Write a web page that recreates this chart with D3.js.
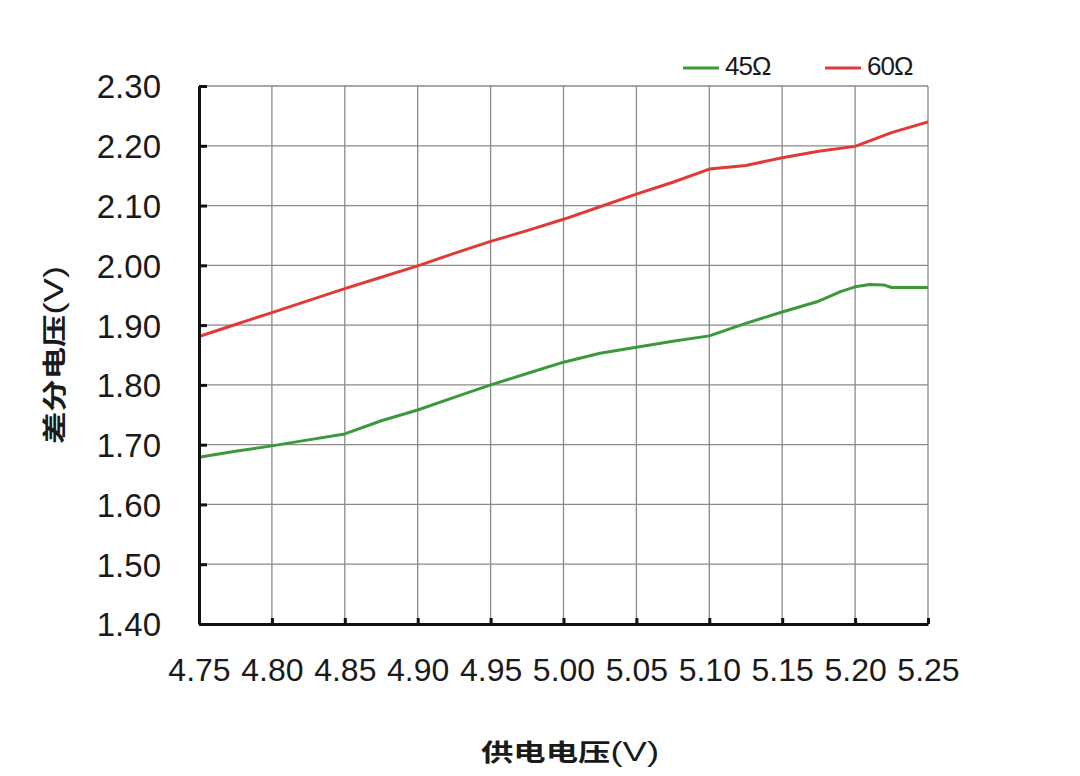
<!DOCTYPE html>
<html><head><meta charset="utf-8">
<script src="https://cdn.jsdelivr.net/npm/d3@7"></script>
<style>body{margin:0;background:#fff}svg{display:block}</style>
</head><body>
<svg id="c" width="1080" height="776"></svg>
<script>
const seriesNames = ["45Ω", "60Ω"];
const seriesColors = ["#3a9a3a", "#e03a36"];
const xTicks = [4.75, 4.80, 4.85, 4.90, 4.95, 5.00, 5.05, 5.10, 5.15, 5.20, 5.25];
const yTicks = [1.40, 1.50, 1.60, 1.70, 1.80, 1.90, 2.00, 2.10, 2.20, 2.30];
const greenX = [4.75, 4.775, 4.80, 4.825, 4.85, 4.875, 4.90, 4.925, 4.95, 4.975, 5.00, 5.025, 5.05, 5.075, 5.10, 5.125, 5.15, 5.175, 5.19, 5.20, 5.21, 5.22, 5.225, 5.25];
const greenY = [1.679, 1.689, 1.698, 1.708, 1.718, 1.740, 1.758, 1.779, 1.800, 1.819, 1.838, 1.853, 1.863, 1.873, 1.882, 1.903, 1.922, 1.940, 1.956, 1.964, 1.968, 1.967, 1.963, 1.963];
const redX = [4.75, 4.775, 4.80, 4.825, 4.85, 4.875, 4.90, 4.925, 4.95, 4.975, 5.00, 5.025, 5.05, 5.075, 5.10, 5.125, 5.15, 5.175, 5.20, 5.225, 5.25];
const redY = [1.881, 1.901, 1.921, 1.941, 1.961, 1.980, 1.999, 2.020, 2.040, 2.058, 2.077, 2.098, 2.119, 2.139, 2.161, 2.167, 2.180, 2.191, 2.199, 2.222, 2.240];

const svg = d3.select("#c");
const L = 199, R = 928, T = 86, B = 624;
const x = d3.scaleLinear().domain([4.75, 5.25]).range([L, R]);
const y = d3.scaleLinear().domain([1.40, 2.30]).range([B, T]);
const font = "'Liberation Sans', Arial, sans-serif";
const cjk = "'Noto Sans CJK SC', sans-serif";

// grid
const g = svg.append("g");
g.selectAll(".vg").data(xTicks).join("line")
  .attr("x1", d => x(d)).attr("x2", d => x(d)).attr("y1", T).attr("y2", B)
  .attr("stroke", "#8a8a8a").attr("stroke-width", 1.3);
g.selectAll(".hg").data(yTicks).join("line")
  .attr("x1", L).attr("x2", R).attr("y1", d => y(d)).attr("y2", d => y(d))
  .attr("stroke", "#8a8a8a").attr("stroke-width", 1.3);

// lines
const line = d3.line().x(d => x(d[0])).y(d => y(d[1]));
const data = [d3.zip(greenX, greenY), d3.zip(redX, redY)];
svg.selectAll(".ser").data(data).join("path")
  .attr("d", line).attr("fill", "none")
  .attr("stroke", (d, i) => seriesColors[i]).attr("stroke-width", 3)
  .attr("stroke-linejoin", "round");

// axes
const yAxis = d3.axisLeft(y).tickValues(yTicks).tickSizeInner(-8).tickSizeOuter(0).tickFormat(d3.format(".2f")).tickPadding(38);
const ya = svg.append("g").attr("transform", `translate(${L},0)`).call(yAxis);
ya.select(".domain").attr("stroke", "#111").attr("stroke-width", 3);
ya.selectAll(".tick line").attr("stroke", "#111").attr("stroke-width", 3);
ya.selectAll("text").attr("font-family", font).attr("font-size", 33).attr("fill", "#1a1a1a").attr("dy", "0.36em");

const xAxis = d3.axisBottom(x).tickValues(xTicks).tickSizeInner(-6).tickSizeOuter(0).tickFormat(d3.format(".2f")).tickPadding(34);
const xa = svg.append("g").attr("transform", `translate(0,${B})`).call(xAxis);
xa.select(".domain").attr("stroke", "#111").attr("stroke-width", 3);
xa.selectAll(".tick line").attr("stroke", "#111").attr("stroke-width", 3);
xa.selectAll("text").attr("font-family", font).attr("font-size", 32).attr("fill", "#1a1a1a").attr("dy", "0.71em");

// titles
function title(tr, main) {
  const t = svg.append("text").attr("font-size", 24).attr("fill", "#1a1a1a")
    .attr("text-anchor", "middle").attr("transform", tr);
  t.append("tspan").attr("font-family", cjk).attr("font-weight", "bold").text(main);
  t.append("tspan").attr("font-family", font).attr("font-size", 27).text("(V)");
}
title("translate(570,761) scale(1.35,1)", "供电电压");
title("translate(63,355) rotate(-90) scale(1.35,1)", "差分电压");

// legend
const legX = [683, 825];
seriesNames.forEach((n, i) => {
  svg.append("line").attr("x1", legX[i]).attr("x2", legX[i] + 36).attr("y1", 68).attr("y2", 68)
    .attr("stroke", seriesColors[i]).attr("stroke-width", 3);
  svg.append("text").attr("x", legX[i] + 42).attr("y", 75).attr("font-family", font)
    .attr("font-size", 26).attr("fill", "#1a1a1a").attr("letter-spacing", -1).text(n);
});
</script>
</body></html>
